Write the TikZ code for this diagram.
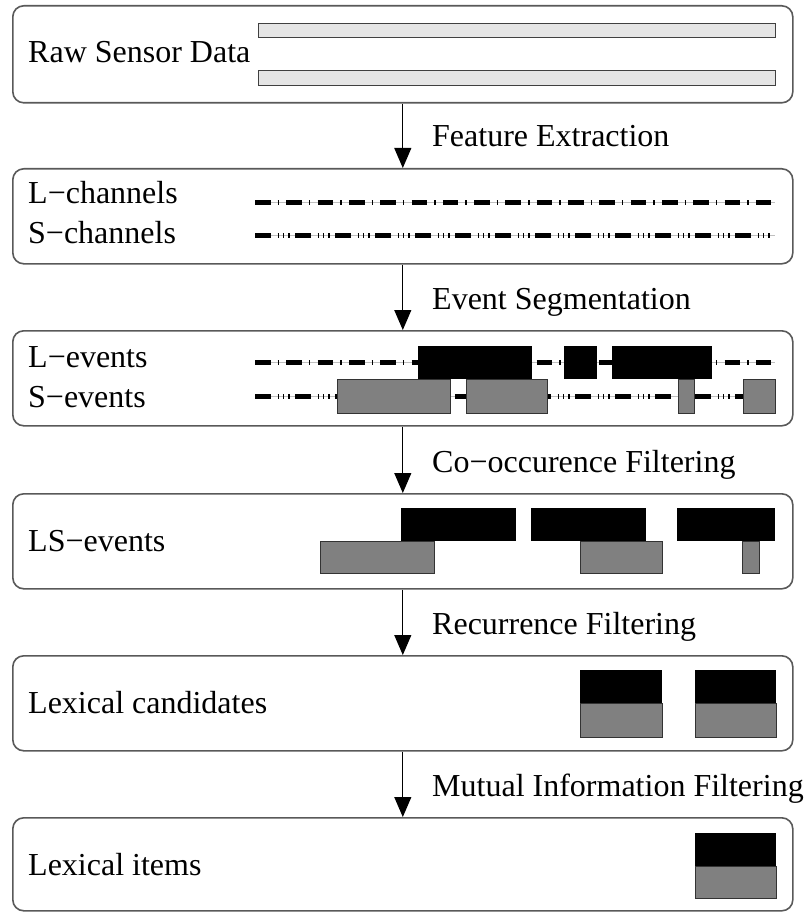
\documentclass[tikz,border=0pt]{standalone}
\usepackage{fontspec}
\setmainfont{Liberation Serif}
\usetikzlibrary{arrows.meta}
\begin{document}
\begin{tikzpicture}[x=1pt,y=-1pt,
	stage/.style={draw=black!65,line width=1.6pt,rounded corners=11pt,anchor=north west,minimum width=780pt,minimum height=95pt,inner sep=0pt},
	txt/.style={font=\fontsize{32}{38}\selectfont,anchor=base west,inner sep=0pt},
	flow/.style={line width=1pt,-{Triangle[length=20pt,width=17pt]}},
	raw/.style={draw=black!75,line width=0.8pt,fill=black!10},
	lev/.style={fill=black},
	sev/.style={draw=black!80,line width=0.8pt,fill=black!50},
	base/.style={line width=0.7pt,black!25},
	lline/.style={line width=5pt,dash pattern=on 15.6pt off 7pt on 1.5pt off 7.2pt},
	sline/.style={line width=5pt,dash pattern=on 15.6pt off 7pt on 1.5pt off 3.7pt on 1.5pt off 3.7pt on 1.5pt off 5.5pt}]
	\useasboundingbox (0,0) rectangle (811,912);
	% stages
	\node[stage,minimum height=97pt] (b1) at (12,5) {};
	\node[stage] (b2) at (12,168) {};
	\node[stage] (b3) at (12,330) {};
	\node[stage] (b4) at (12,493) {};
	\node[stage] (b5) at (12,655) {};
	\node[stage,minimum height=93pt] (b6) at (12,817) {};
	% stage texts
	\node[txt] (t1) at (28,63) {Raw Sensor Data};
	\node[txt] (t2) at (28,203) {L−channels};
	\node[txt] (t3) at (28,243) {S−channels};
	\node[txt] (t4) at (28,367) {L−events};
	\node[txt] (t5) at (28,407) {S−events};
	\node[txt] (t6) at (28,551) {LS−events};
	\node[txt] (t7) at (28,713) {Lexical candidates};
	\node[txt] (t8) at (28,875) {Lexical items};
	% steps
	\draw[flow] (b1.south) -- (b2.north);
	\draw[flow] (b2.south) -- (b3.north);
	\draw[flow] (b3.south) -- (b4.north);
	\draw[flow] (b4.south) -- (b5.north);
	\draw[flow] (b5.south) -- (b6.north);
	\node[txt] (s1) at (432,147) {Feature Extraction};
	\node[txt] (s2) at (432,309) {Event Segmentation};
	\node[txt] (s3) at (432,472) {Co−occurence Filtering};
	\node[txt] (s4) at (432,634) {Recurrence Filtering};
	\node[txt] (s5) at (432,796) {Mutual Information Filtering};
	% raw data
	\draw[raw] (258,23) rectangle (775,37);
	\draw[raw] (258,70) rectangle (775,85);
	% channels
	\draw[base] (255,202) -- (775,202);
	\draw[lline] (255,202) -- (775,202);
	\draw[base] (255,235) -- (775,235);
	\draw[sline] (255,235) -- (775,235);
	% events
	\draw[base] (255,362) -- (775,362);
	\draw[lline] (255,362) -- (775,362);
	\draw[base] (255,396) -- (775,396);
	\draw[sline] (255,396) -- (775,396);
	\fill[lev] (418,346) rectangle (532,379);
	\fill[lev] (564,346) rectangle (597,379);
	\fill[lev] (612,346) rectangle (712,379);
	\draw[sev] (337,379) rectangle (450,413);
	\draw[sev] (466,379) rectangle (547,413);
	\draw[sev] (678,379) rectangle (694,413);
	\draw[sev] (743,379) rectangle (775,413);
	% LS-events
	\fill[lev] (401,508) rectangle (516,541);
	\fill[lev] (531,508) rectangle (646,541);
	\fill[lev] (677,508) rectangle (775,541);
	\draw[sev] (320,541) rectangle (434,573);
	\draw[sev] (580,541) rectangle (662,573);
	\draw[sev] (742,541) rectangle (759,573);
	% candidates
	\fill[lev] (580,670) rectangle (662,703);
	\fill[lev] (695,670) rectangle (776,703);
	\draw[sev] (580,703) rectangle (662,737);
	\draw[sev] (695,703) rectangle (776,737);
	% items
	\fill[lev] (695,833) rectangle (776,866);
	\draw[sev] (695,866) rectangle (776,898);
\end{tikzpicture}
\end{document}
